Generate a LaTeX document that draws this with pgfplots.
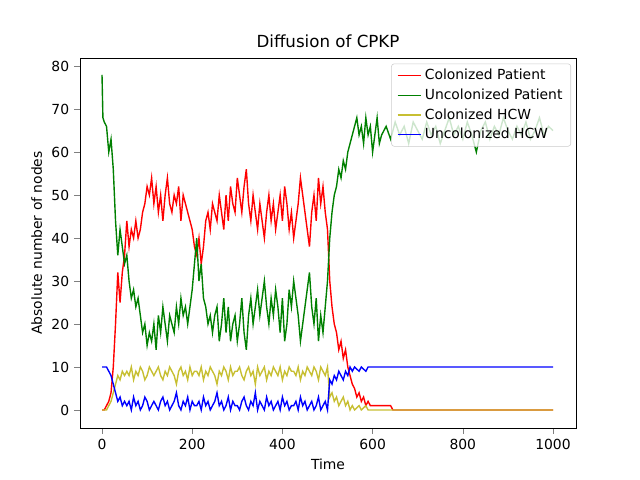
\documentclass[border=0pt]{standalone}
\usepackage{pgfplots}
\pgfplotsset{compat=1.18}
\usepackage{fontspec}
\setmainfont{DejaVu Sans}
\begin{document}
\begin{tikzpicture}
\path[use as bounding box] (-57.6pt,-37.44pt) rectangle (403.2pt,308.16pt);
\begin{axis}[
  scale only axis, width=357.12pt, height=266.4pt,
  xmin=-48.8, xmax=1051, ymin=-4.2, ymax=81.9,
  xtick={0,200,400,600,800,1000}, ytick={0,10,...,80},
  tick pos=left, tick align=outside,
  /pgf/number format/assume math mode=true,
  /pgf/number format/1000 sep={},
  tick label style={font=\fontsize{10}{12}\selectfont},
  label style={font=\fontsize{10}{12}\selectfont},
  xlabel={Time}, ylabel={Absolute number of nodes},
  title={Diffusion of CPKP}, title style={font=\fontsize{12}{14}\selectfont, yshift=-2pt},
  legend style={at={(0.99,0.985)}, anchor=north east, font=\fontsize{10}{12}\selectfont,
    fill=white, fill opacity=0.8, text opacity=1, draw=black!20, rounded corners=2pt,
    row sep=1pt, inner xsep=4pt},
  legend cell align=left,
  every axis plot/.append style={line width=1pt},
]
\addplot[red, mark=none] coordinates {
(0,0)(5,0)(10,1)(15,2)(20,4)(25,10)(30,20)(35,32)(40,25)(45,32)(50,36)(55,44)(60,38)(65,42)(70,40)(75,44)(80,40)(85,42)(90,46)(95,48)(100,52)(105,50)(110,54)(115,48)(120,52)(125,46)(130,50)(135,44)(140,50)(145,54)(150,48)(155,46)(160,50)(165,48)(170,52)(175,44)(180,50)(185,48)(190,46)(195,44)(200,42)(205,38)(210,36)(215,40)(220,34)(225,38)(230,44)(235,46)(240,42)(245,48)(250,46)(255,44)(260,50)(265,46)(270,42)(275,50)(280,44)(285,52)(290,48)(295,46)(300,54)(305,50)(310,46)(315,52)(320,56)(325,48)(330,44)(335,50)(340,46)(345,42)(350,48)(355,44)(360,40)(365,46)(370,50)(375,44)(380,48)(385,42)(390,46)(395,50)(400,44)(405,52)(410,48)(415,42)(420,46)(425,40)(430,44)(435,48)(440,54)(445,50)(450,46)(455,42)(460,38)(465,46)(470,50)(475,44)(480,54)(485,48)(490,52)(495,46)(500,42)(505,30)(510,24)(515,20)(520,18)(525,14)(530,16)(535,12)(540,14)(545,10)(550,8)(555,6)(560,5)(565,3)(570,4)(575,2)(580,3)(585,1)(590,2)(595,1)(600,1)(640,1)(645,0)(1000,0)};
\addlegendentry{Colonized Patient}
\addplot[green!50!black, mark=none] coordinates {
(0,78)(2,68)(5,67)(10,66)(15,60)(20,63)(25,56)(30,44)(35,36)(40,42)(45,38)(50,34)(55,36)(60,30)(65,26)(70,28)(75,24)(80,26)(85,22)(90,18)(95,20)(100,15)(105,18)(110,16)(115,20)(120,14)(125,22)(130,18)(135,24)(140,20)(145,16)(150,22)(155,20)(160,18)(165,24)(170,20)(175,26)(180,22)(185,24)(190,20)(195,24)(200,28)(205,34)(210,40)(215,30)(220,34)(225,26)(230,24)(235,20)(240,22)(245,18)(250,22)(255,24)(260,16)(265,20)(270,26)(275,18)(280,24)(285,16)(290,20)(295,22)(300,16)(305,20)(310,26)(315,18)(320,14)(325,22)(330,26)(335,20)(340,24)(345,28)(350,22)(355,26)(360,30)(365,24)(370,20)(375,26)(380,22)(385,28)(390,24)(395,18)(400,26)(405,16)(410,20)(415,28)(420,24)(425,30)(430,26)(435,22)(440,16)(445,20)(450,24)(455,28)(460,32)(465,24)(470,20)(475,26)(480,16)(485,22)(490,18)(495,24)(500,30)(505,40)(510,46)(515,50)(520,52)(525,56)(530,54)(535,58)(540,56)(545,60)(550,62)(555,64)(560,66)(565,68)(570,64)(575,66)(580,62)(585,68)(590,64)(595,66)(600,60)(605,64)(610,68)(615,62)(620,64)(630,66)(640,63)(650,67)(660,64)(670,66)(680,62)(690,67)(700,65)(710,63)(720,67)(730,64)(740,66)(750,62)(760,65)(770,68)(780,64)(790,66)(800,63)(810,67)(820,64)(830,60)(840,65)(850,67)(860,63)(870,66)(880,64)(890,68)(900,65)(910,63)(920,66)(930,64)(940,67)(950,63)(960,65)(970,68)(980,64)(990,66)(1000,65)};
\addlegendentry{Uncolonized Patient}
\addplot[yellow!75!black, mark=none] coordinates {
(0,0)(10,0)(15,1)(20,2)(25,4)(30,6)(35,8)(40,7)(45,9)(50,8)(55,9)(60,8)(65,10)(70,7)(75,9)(80,8)(85,10)(90,9)(95,7)(100,8)(105,10)(110,9)(115,8)(120,9)(125,10)(130,8)(135,7)(140,9)(145,8)(150,10)(155,9)(160,8)(165,6)(170,9)(175,10)(180,8)(185,9)(190,7)(195,10)(200,8)(205,9)(210,9)(215,8)(220,10)(225,7)(230,9)(235,8)(240,10)(245,9)(250,8)(255,6)(260,9)(265,8)(270,10)(275,9)(280,7)(285,10)(290,8)(295,9)(300,9)(305,10)(310,8)(315,7)(320,9)(325,10)(330,8)(335,9)(340,6)(345,10)(350,8)(355,9)(360,10)(365,7)(370,9)(375,8)(380,10)(385,9)(390,8)(395,10)(400,7)(405,9)(410,8)(415,10)(420,9)(425,9)(430,8)(435,10)(440,7)(445,9)(450,8)(455,10)(460,9)(465,8)(470,10)(475,9)(480,7)(485,10)(490,9)(495,8)(500,10)(505,3)(510,4)(515,2)(520,3)(525,1)(530,2)(535,3)(540,1)(545,2)(550,0)(555,1)(560,0)(570,1)(575,0)(585,1)(590,0)(1000,0)};
\addlegendentry{Colonized HCW}
\addplot[blue, mark=none] coordinates {
(0,10)(10,10)(15,9)(20,8)(25,6)(30,4)(35,2)(40,3)(45,1)(50,2)(55,1)(60,2)(65,0)(70,3)(75,1)(80,2)(85,0)(90,1)(95,3)(100,2)(105,0)(110,1)(115,2)(120,1)(125,0)(130,2)(135,3)(140,1)(145,2)(150,0)(155,1)(160,2)(165,4)(170,1)(175,0)(180,2)(185,1)(190,3)(195,0)(200,2)(205,1)(210,1)(215,2)(220,0)(225,3)(230,1)(235,2)(240,0)(245,1)(250,2)(255,4)(260,1)(265,2)(270,0)(275,1)(280,3)(285,0)(290,2)(295,1)(300,1)(305,0)(310,2)(315,3)(320,1)(325,0)(330,2)(335,1)(340,4)(345,0)(350,2)(355,1)(360,0)(365,3)(370,1)(375,2)(380,0)(385,1)(390,2)(395,0)(400,3)(405,1)(410,2)(415,0)(420,1)(425,1)(430,2)(435,0)(440,3)(445,1)(450,2)(455,0)(460,1)(465,2)(470,0)(475,1)(480,3)(485,0)(490,1)(495,2)(500,0)(505,7)(510,6)(515,8)(520,7)(525,9)(530,8)(535,7)(540,9)(545,8)(550,10)(555,9)(560,10)(570,9)(575,10)(585,9)(590,10)(1000,10)};
\addlegendentry{Uncolonized HCW}
\end{axis}
\end{tikzpicture}
\end{document}
